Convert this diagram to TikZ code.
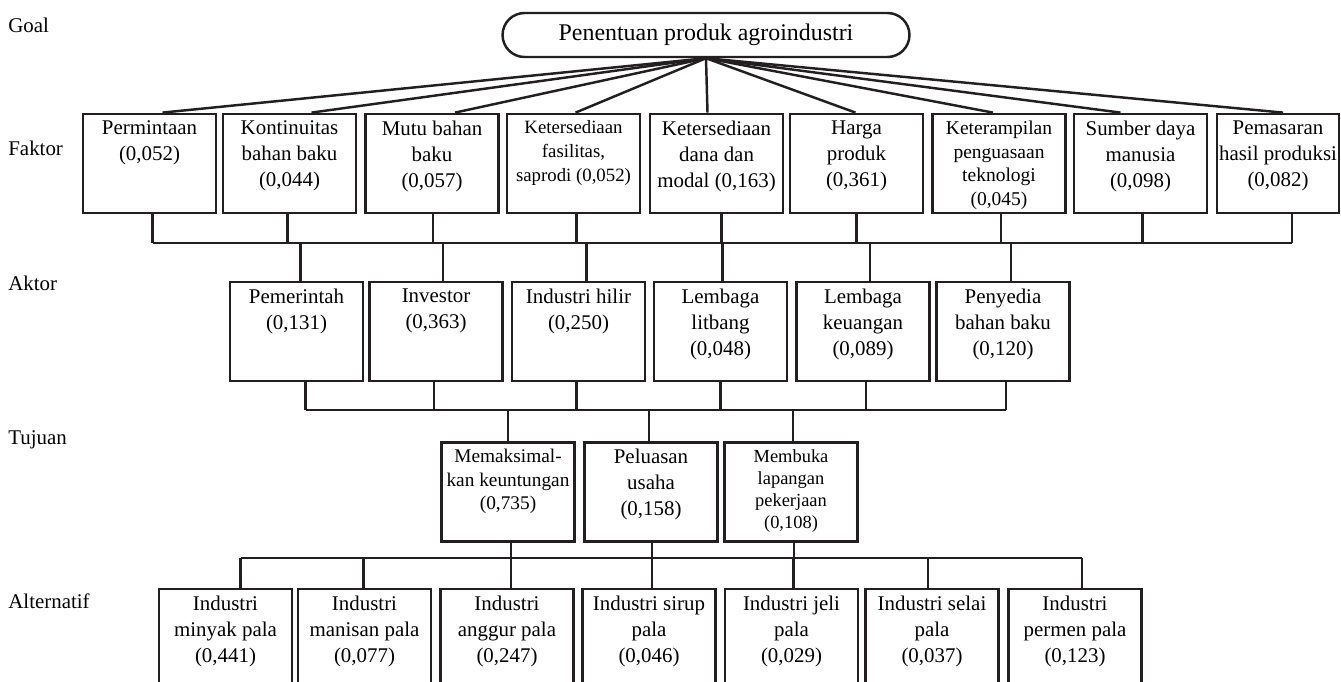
\documentclass[tikz,border=0pt]{standalone}
\usepackage{fontspec}
\setmainfont{Liberation Serif}
\usetikzlibrary{positioning,calc}
\definecolor{garis}{HTML}{231F20}

\tikzset{
  kotak/.style={draw=garis, line width=1.6pt, minimum width=2.66cm, minimum height=1.98cm, inner sep=0pt},
  isi/.style={align=center, inner sep=0pt, anchor=north, font=\fontsize{11.9}{14.7}\selectfont},
  kecil/.style={font=\fontsize{10.7}{13.4}\selectfont},
  tingkat/.style={anchor=base west, inner sep=0pt, font=\fontsize{11.9}{14.7}\selectfont},
  hubung/.style={draw=garis, line width=1.4pt},
}

% box with its text set at the top
\newcommand{\kotakisi}[4][]{%
  \node[kotak] (#2) at (#3) {};
  \node[isi,#1] (#2t) at ($(#2.north)+(0,8)$) {#4};
}

\begin{document}
\begin{tikzpicture}[x=0.02cm, y=-0.02cm]
  \clip (0,0) rectangle (1341,682);

  % level labels
  \node[tingkat] (lgoal) at (8,33) {Goal};
  \node[tingkat] (lfaktor) at (8,156) {Faktor};
  \node[tingkat] (laktor) at (8,290.5) {Aktor};
  \node[tingkat] (ltujuan) at (8,444.5) {Tujuan};
  \node[tingkat] (lalt) at (8,608.5) {Alternatif};

  % goal
  \node[draw=garis, line width=1.4pt, rounded corners=0.44cm, minimum width=8.14cm, minimum height=0.88cm,
        font=\fontsize{13.6}{16}\selectfont] (goal) at (706,35) {Penentuan produk agroindustri};

  % faktor
  \kotakisi{f1}{149.5,163.5}{Permintaan\\(0,052)}
  \kotakisi{f2}{289.5,163.5}{Kontinuitas\\bahan baku\\(0,044)}
  \kotakisi{f3}{432,163.5}{Mutu bahan\\baku\\(0,057)}
  \kotakisi[kecil]{f4}{573.5,163.5}{Ketersediaan\\fasilitas,\\saprodi (0,052)}
  \kotakisi{f5}{716.5,163.5}{Ketersediaan\\dana dan\\modal (0,163)}
  \kotakisi{f6}{856.5,163.5}{Harga\\produk\\(0,361)}
  \kotakisi[font=\fontsize{11.1}{13.4}\selectfont]{f7}{999,163.5}{Keterampilan\\penguasaan\\teknologi\\(0,045)}
  \kotakisi{f8}{1140.5,163.5}{Sumber daya\\manusia\\(0,098)}
  \node[kotak, minimum width=2.44cm] (f9) at (1278,163.5) {};
  \node[isi] (f9t) at ($(f9.north)+(0,8)$) {Pemasaran\\hasil produksi\\(0,082)};

  % aktor
  \kotakisi{a1}{296.5,331.5}{Pemerintah\\(0,131)}
  \kotakisi{a2}{436,331.5}{Investor\\(0,363)}
  \kotakisi{a3}{578.5,331.5}{Industri hilir\\(0,250)}
  \kotakisi{a4}{720.5,331.5}{Lembaga\\litbang\\(0,048)}
  \kotakisi{a5}{863,331.5}{Lembaga\\keuangan\\(0,089)}
  \kotakisi{a6}{1003,331.5}{Penyedia\\bahan baku\\(0,120)}

  % tujuan
  \kotakisi[font=\fontsize{11}{13.4}\selectfont]{t1}{508,492}{Memaksimal-\\kan keuntungan\\(0,735)}
  \kotakisi{t2}{651,492}{Peluasan\\usaha\\(0,158)}
  \kotakisi[font=\fontsize{10.5}{12.6}\selectfont]{t3}{791,492}{Membuka\\lapangan\\pekerjaan\\(0,108)}

  % alternatif
  \kotakisi{p1}{225.5,638.5}{Industri\\minyak pala\\(0,441)}
  \kotakisi{p2}{364.5,638.5}{Industri\\manisan pala\\(0,077)}
  \kotakisi{p3}{507,638.5}{Industri\\anggur pala\\(0,247)}
  \kotakisi{p4}{649,638.5}{Industri sirup\\pala\\(0,046)}
  \kotakisi{p5}{791.5,638.5}{Industri jeli\\pala\\(0,029)}
  \kotakisi{p6}{932,638.5}{Industri selai\\pala\\(0,037)}
  \kotakisi{p7}{1075,638.5}{Industri\\permen pala\\(0,123)}

  % goal to faktor
  \foreach \i/\dx in {1/13,2/22,3/23,4/2,5/-9,6/-1,7/-6,8/-20,9/5}
    \draw[hubung] (goal.south) -- ($(f\i.north)+(\dx,0)$);

  % faktor to aktor
  \coordinate (busF) at (0,243);
  \foreach \i/\dx in {1/3,2/-2,3/1,4/3,5/5,6/0,7/2,8/2,9/14}{
    \coordinate (sf\i) at ($(f\i.south)+(\dx,0)$);
    \draw[hubung] (sf\i) -- (sf\i |- busF);
  }
  \draw[hubung] (sf1 |- busF) -- (sf9 |- busF);
  \foreach \i/\dx in {1/4,2/7,3/8,4/2,5/7,6/8}{
    \coordinate (na\i) at ($(a\i.north)+(\dx,0)$);
    \draw[hubung] (na\i) -- (na\i |- busF);
  }

  % aktor to tujuan
  \coordinate (busA) at (0,410);
  \foreach \i/\dx in {1/9,2/-2,3/-2,4/0,5/3,6/3}{
    \coordinate (sa\i) at ($(a\i.south)+(\dx,0)$);
    \draw[hubung] (sa\i) -- (sa\i |- busA);
  }
  \draw[hubung] (sa1 |- busA) -- (sa6 |- busA);
  \foreach \i/\dx in {1/0,2/-2,3/2}{
    \coordinate (nt\i) at ($(t\i.north)+(\dx,0)$);
    \draw[hubung] (nt\i) -- (nt\i |- busA);
  }

  % tujuan to alternatif
  \coordinate (busT) at (0,558);
  \foreach \i/\dx in {1/3,2/1,3/3}{
    \coordinate (st\i) at ($(t\i.south)+(\dx,0)$);
    \draw[hubung] (st\i) -- (st\i |- busT);
  }
  \foreach \i/\dx in {1/15,2/-1,3/4,4/3,5/2,6/-4,7/7}{
    \coordinate (sp\i) at ($(p\i.north)+(\dx,0)$);
    \draw[hubung] (sp\i) -- (sp\i |- busT);
  }
  \draw[hubung] (sp1 |- busT) -- (sp7 |- busT);
\end{tikzpicture}
\end{document}
